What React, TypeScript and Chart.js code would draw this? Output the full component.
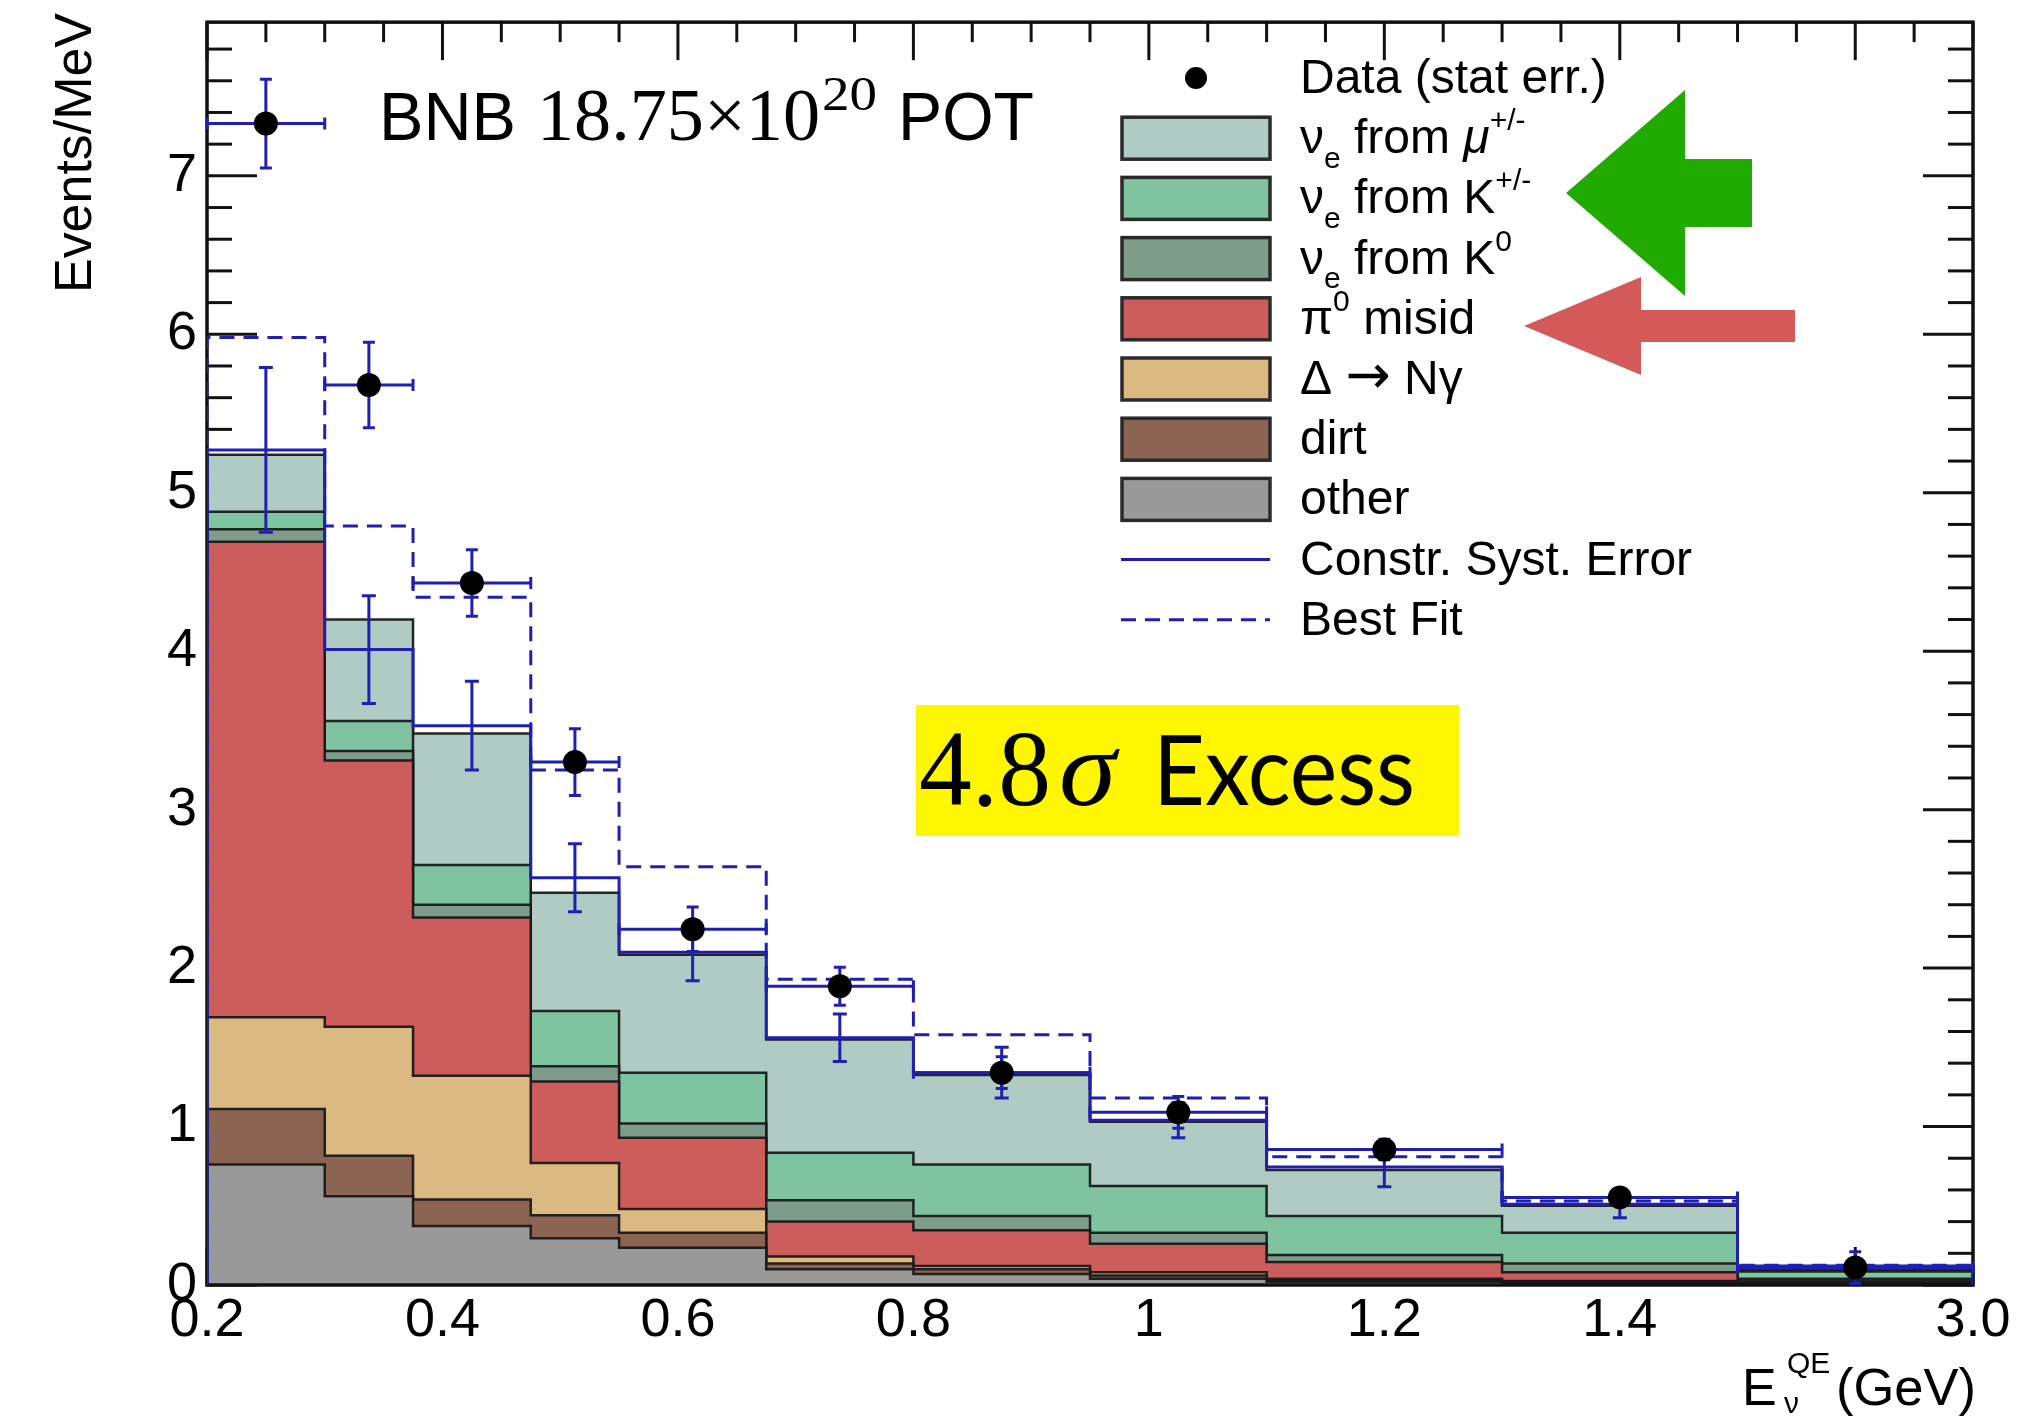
import React, { useEffect, useRef } from "react";
import { Chart, registerables } from "chart.js";

Chart.register(...registerables);

// ---------------- data ----------------
// Bin edges in GeV (last bin 1.5-3.0 GeV is drawn compressed, as in the original)
const binEdges = [0.2, 0.3, 0.375, 0.475, 0.55, 0.675, 0.8, 0.95, 1.1, 1.3, 1.5, 3.0];

// Stacked components (Events/MeV), bottom to top
const otherVals = [0.76, 0.56, 0.373, 0.295, 0.235, 0.1, 0.07, 0.04, 0.02, 0.01, 0.005];
const dirtVals = [0.35, 0.255, 0.167, 0.145, 0.095, 0.035, 0.03, 0.02, 0.01, 0.01, 0.004];
const deltaVals = [0.58, 0.815, 0.78, 0.33, 0.15, 0.045, 0.02, 0.02, 0.01, 0.005, 0.004];
const pi0Vals = [3.0, 1.68, 1.0, 0.515, 0.45, 0.22, 0.225, 0.18, 0.105, 0.055, 0.012];
const k0Vals = [0.08, 0.06, 0.08, 0.095, 0.09, 0.135, 0.09, 0.07, 0.045, 0.055, 0.015];
const kpmVals = [0.11, 0.19, 0.25, 0.35, 0.32, 0.3, 0.325, 0.295, 0.246, 0.195, 0.045];
const muVals = [0.36, 0.64, 0.83, 0.745, 0.745, 0.715, 0.565, 0.405, 0.289, 0.17, 0.011];

// Constrained prediction and its systematic error
const constrVals = [5.27, 4.01, 3.53, 2.57, 2.1, 1.56, 1.34, 1.04, 0.745, 0.51, 0.12];
const constrErr = [0.52, 0.34, 0.28, 0.215, 0.18, 0.15, 0.16, 0.11, 0.125, 0.085, 0.03];

// Best fit
const bestFitVals = [5.98, 4.79, 4.34, 3.25, 2.64, 1.93, 1.58, 1.18, 0.81, 0.53, 0.125];

// Data (stat err.)
const dataVals = [7.33, 5.68, 4.43, 3.3, 2.245, 1.885, 1.34, 1.09, 0.855, 0.553, 0.11];
const dataErr = [0.28, 0.27, 0.21, 0.21, 0.14, 0.12, 0.1, 0.1, 0.065, 0.055, 0.1];

// Axis ticks
const xTickValues = [0.2, 0.4, 0.6, 0.8, 1.0, 1.2, 1.4, 3.0];
const xTickLabels = ["0.2", "0.4", "0.6", "0.8", "1", "1.2", "1.4", "3.0"];
const yTickValues = [0, 1, 2, 3, 4, 5, 6, 7];
const yTickLabels = ["0", "1", "2", "3", "4", "5", "6", "7"];
const yMax = 7.97;

// Text
const yTitle = "Events/MeV";
const potTextParts = ["BNB", "18.75×10", "20", "POT"];
const excessParts = ["4.8", "σ", "Excess"];

type Run = { t: string; sub?: boolean; sup?: boolean; it?: boolean; serif?: boolean; sym?: boolean };
const legendText: Run[][] = [
  [{ t: "Data (stat err.)" }],
  [{ t: "ν" }, { t: "e", sub: true }, { t: " from " }, { t: "μ", it: true }, { t: "+/-", sup: true }],
  [{ t: "ν" }, { t: "e", sub: true }, { t: " from K" }, { t: "+/-", sup: true }],
  [{ t: "ν" }, { t: "e", sub: true }, { t: " from K" }, { t: "0", sup: true }],
  [{ t: "π" }, { t: "0", sup: true }, { t: " misid" }],
  [{ t: "Δ " }, { t: "→", sym: true }, { t: " Nγ" }],
  [{ t: "dirt" }],
  [{ t: "other" }],
  [{ t: "Constr. Syst. Error" }],
  [{ t: "Best Fit" }],
];

// ---------------- styles ----------------
const W = 2029;
const H = 1418;
const SANS = '"Liberation Sans", Arial, Helvetica, sans-serif';
const SERIF = '"Liberation Serif", "Times New Roman", serif';
const SYM = '"DejaVu Sans", sans-serif';
const BLUE = "#1f1fb2";
const OUTLINE = "rgba(22,22,22,0.92)";
const COMP_COLORS = ["#999999", "#8b6454", "#dbb983", "#cd5c5c", "#7e9c8b", "#80c3a0", "#b0cbc4"];
const LEGEND_KIND = ["dot", "box", "box", "box", "box", "box", "box", "box", "line", "dash"];
const LEGEND_BOX_COLORS = ["", "#b0cbc4", "#80c3a0", "#7e9c8b", "#cd5c5c", "#dbb983", "#8b6454", "#999999", "", ""];

// compressed display axis: 1.5-3.0 GeV occupies 0.2 axis units
const toAxis = (e: number) => (e <= 1.5 ? e : 1.5 + ((e - 1.5) * 0.2) / 1.5);
const nBins = binEdges.length - 1;
const binCenters = Array.from({ length: nBins }, (_, i) => (toAxis(binEdges[i]) + toAxis(binEdges[i + 1])) / 2);

function stepPoints(vals: number[]) {
  const pts: { x: number; y: number }[] = [{ x: toAxis(binEdges[0]), y: 0 }];
  vals.forEach((v, i) => pts.push({ x: toAxis(binEdges[i]), y: v }));
  const last = toAxis(binEdges[nBins]);
  pts.push({ x: last, y: vals[vals.length - 1] });
  pts.push({ x: last, y: 0 });
  return pts;
}

const components = [otherVals, dirtVals, deltaVals, pi0Vals, k0Vals, kpmVals, muVals];
const cumulative = components.map((_, k) =>
  Array.from({ length: nBins }, (_, i) => {
    let s = 0;
    for (let j = 0; j <= k; j++) s += components[j][i];
    return s;
  })
);

function seg(ctx: CanvasRenderingContext2D, x1: number, y1: number, x2: number, y2: number) {
  ctx.beginPath();
  ctx.moveTo(x1, y1);
  ctx.lineTo(x2, y2);
  ctx.stroke();
}

function fitText(ctx: CanvasRenderingContext2D, text: string, font: string, x: number, y: number, width: number) {
  ctx.font = font;
  const w = ctx.measureText(text).width;
  ctx.save();
  ctx.translate(x, y);
  ctx.scale(width / w, 1);
  ctx.fillText(text, 0, 0);
  ctx.restore();
}

function drawRuns(ctx: CanvasRenderingContext2D, x: number, y: number, runs: Run[], size: number) {
  let cx = x;
  for (const r of runs) {
    const small = r.sub || r.sup;
    const fs = small ? Math.round(size * 0.62) : r.sym ? Math.round(size * 1.12) : size;
    const fam = r.sym ? SYM : r.serif ? SERIF : SANS;
    ctx.font = `${r.it ? "italic " : ""}${fs}px ${fam}`;
    const dy = r.sub ? size * 0.3 : r.sup ? -size * 0.48 : r.sym ? -size * 0.02 : 0;
    ctx.fillText(r.t, cx, y + dy);
    cx += ctx.measureText(r.t).width;
  }
}

const histPlugin = {
  id: "histExtras",
  beforeDatasetsDraw(chart: any) {
    const { ctx, chartArea: a } = chart;
    const xs = chart.scales.x;
    const ys = chart.scales.y;
    ctx.save();
    ctx.strokeStyle = "#111";
    ctx.lineWidth = 3;
    for (let k = 0; k <= 30; k++) {
      const v = 0.2 + k * 0.05;
      const px = xs.getPixelForValue(v);
      if (px > a.right + 1) break;
      const len = k % 4 === 0 ? 38 : 20;
      seg(ctx, px, a.bottom, px, a.bottom - len);
      seg(ctx, px, a.top, px, a.top + len);
    }
    for (let k = 0; k <= 40; k++) {
      const v = k * 0.2;
      if (v > ys.max) break;
      const py = ys.getPixelForValue(v);
      const len = k % 5 === 0 ? 50 : 25;
      seg(ctx, a.left, py, a.left + len, py);
      seg(ctx, a.right, py, a.right - len, py);
    }
    ctx.restore();
  },
  afterDatasetDraw(chart: any, args: any) {
    const { ctx, chartArea: a } = chart;
    const xs = chart.scales.x;
    const ys = chart.scales.y;
    if (args.index === 3) {
      ctx.save();
      ctx.strokeStyle = "#111";
      ctx.lineWidth = 3.5;
      ctx.strokeRect(a.left, a.top, a.right - a.left, a.bottom - a.top);
      ctx.restore();
    }
    if (args.index === 1) {
      ctx.save();
      ctx.beginPath();
      ctx.rect(a.left - 2, a.top, a.right - a.left + 4, a.bottom - a.top);
      ctx.clip();
      ctx.strokeStyle = BLUE;
      ctx.lineWidth = 3;
      for (let i = 0; i < nBins; i++) {
        const xl = xs.getPixelForValue(toAxis(binEdges[i]));
        const xr = xs.getPixelForValue(toAxis(binEdges[i + 1]));
        const xc = xs.getPixelForValue(binCenters[i]);
        // constrained systematic error
        const c0 = ys.getPixelForValue(constrVals[i] - constrErr[i]);
        const c1 = ys.getPixelForValue(constrVals[i] + constrErr[i]);
        seg(ctx, xc, c0, xc, c1);
        seg(ctx, xc - 7, c0, xc + 7, c0);
        seg(ctx, xc - 7, c1, xc + 7, c1);
        // data error bars
        const yd = ys.getPixelForValue(dataVals[i]);
        seg(ctx, xl, yd, xr, yd);
        seg(ctx, xl, yd - 6, xl, yd + 6);
        seg(ctx, xr, yd - 6, xr, yd + 6);
        const d0 = ys.getPixelForValue(Math.max(dataVals[i] - dataErr[i], 0));
        const d1 = ys.getPixelForValue(dataVals[i] + dataErr[i]);
        seg(ctx, xc, d0, xc, d1);
        seg(ctx, xc - 6, d0, xc + 6, d0);
        seg(ctx, xc - 6, d1, xc + 6, d1);
      }
      ctx.restore();
    }
  },
  afterDraw(chart: any) {
    const { ctx } = chart;
    ctx.save();
    ctx.fillStyle = "#000";
    ctx.textBaseline = "alphabetic";
    ctx.textAlign = "left";

    // y title (rotated)
    ctx.save();
    ctx.translate(91, 293);
    ctx.rotate(-Math.PI / 2);
    fitText(ctx, yTitle, `52px ${SANS}`, 0, 0, 280);
    ctx.restore();

    // x title
    ctx.font = `52px ${SANS}`;
    ctx.fillText("E", 1742, 1405);
    ctx.font = `30px ${SANS}`;
    ctx.fillText("QE", 1787, 1373);
    ctx.fillText("ν", 1784, 1413);
    fitText(ctx, "(GeV)", `52px ${SANS}`, 1836, 1405, 140);

    // BNB POT text
    fitText(ctx, potTextParts[0], `68px ${SANS}`, 379, 140, 137);
    fitText(ctx, potTextParts[1], `74px ${SERIF}`, 537, 140, 283);
    fitText(ctx, potTextParts[2], `48px ${SERIF}`, 822, 110, 55);
    fitText(ctx, potTextParts[3], `68px ${SANS}`, 898, 140, 136);

    // 4.8 sigma excess box
    ctx.fillStyle = "#fff700";
    ctx.fillRect(916, 705, 543, 131);
    ctx.fillStyle = "#000";
    fitText(ctx, excessParts[0], `108px ${SERIF}`, 919, 805, 132);
    fitText(ctx, excessParts[1], `italic 108px ${SERIF}`, 1059, 805, 57);
    fitText(ctx, excessParts[2], `96px Lato, ${SANS}`, 1153, 805, 262);

    // legend
    const rowY0 = 78;
    const rowDy = 60.2;
    for (let r = 0; r < legendText.length; r++) {
      const cy = rowY0 + r * rowDy;
      const kind = LEGEND_KIND[r];
      if (kind === "dot") {
        ctx.fillStyle = "#000";
        ctx.beginPath();
        ctx.arc(1196, cy, 11, 0, Math.PI * 2);
        ctx.fill();
      } else if (kind === "box") {
        ctx.fillStyle = LEGEND_BOX_COLORS[r];
        ctx.fillRect(1122, cy - 21, 148, 42);
        ctx.strokeStyle = "#2a2a2a";
        ctx.lineWidth = 3.5;
        ctx.strokeRect(1122, cy - 21, 148, 42);
      } else {
        ctx.strokeStyle = BLUE;
        ctx.lineWidth = 3;
        ctx.setLineDash(kind === "dash" ? [15, 9] : []);
        seg(ctx, 1121, cy, 1270, cy);
        ctx.setLineDash([]);
      }
      ctx.fillStyle = "#000";
      drawRuns(ctx, 1300, cy + 15, legendText[r], 48);
    }

    // arrows
    ctx.fillStyle = "#21ab00";
    ctx.beginPath();
    ctx.moveTo(1566, 193);
    ctx.lineTo(1685, 90);
    ctx.lineTo(1685, 159);
    ctx.lineTo(1752, 159);
    ctx.lineTo(1752, 227);
    ctx.lineTo(1685, 227);
    ctx.lineTo(1685, 296);
    ctx.closePath();
    ctx.fill();

    ctx.fillStyle = "#d45a5a";
    ctx.beginPath();
    ctx.moveTo(1524, 326);
    ctx.lineTo(1641, 277);
    ctx.lineTo(1641, 310);
    ctx.lineTo(1795, 310);
    ctx.lineTo(1795, 342);
    ctx.lineTo(1641, 342);
    ctx.lineTo(1641, 375);
    ctx.closePath();
    ctx.fill();

    ctx.restore();
  },
};

export default function App() {
  const ref = useRef<HTMLCanvasElement>(null);

  useEffect(() => {
    const canvas = ref.current;
    if (!canvas) return;

    const histDatasets = cumulative.map((vals, k) => ({
      label: `comp${k}`,
      data: stepPoints(vals),
      stepped: true,
      fill: "origin",
      backgroundColor: COMP_COLORS[k],
      borderColor: OUTLINE,
      borderWidth: 2.5,
      pointRadius: 0,
      tension: 0,
    }));

    const datasets: any[] = [
      {
        label: "Data",
        data: dataVals.map((v, i) => ({ x: binCenters[i], y: v })),
        showLine: false,
        pointRadius: 12,
        pointBackgroundColor: "#000",
        pointBorderColor: "#000",
        pointBorderWidth: 0,
        fill: false,
      },
      {
        label: "Constr",
        data: stepPoints(constrVals),
        stepped: true,
        fill: false,
        borderColor: BLUE,
        borderWidth: 3,
        pointRadius: 0,
      },
      {
        label: "Best Fit",
        data: stepPoints(bestFitVals),
        stepped: true,
        fill: false,
        borderColor: BLUE,
        borderWidth: 3,
        borderDash: [15, 9],
        pointRadius: 0,
      },
      ...histDatasets,
    ];

    const chart = new Chart(canvas, {
      type: "line",
      data: { datasets },
      plugins: [histPlugin as any],
      options: {
        responsive: false,
        animation: false,
        devicePixelRatio: 1,
        events: [],
        layout: { padding: { top: 13, right: 56, bottom: 0, left: 0 } },
        plugins: { legend: { display: false }, tooltip: { enabled: false } },
        scales: {
          x: {
            type: "linear",
            min: 0.2,
            max: 1.7,
            grid: { display: false, drawTicks: false },
            border: { display: false },
            afterBuildTicks: (s: any) => {
              s.ticks = xTickValues.map((v) => ({ value: toAxis(v) }));
            },
            afterFit: (s: any) => {
              s.height = 133;
            },
            ticks: {
              autoSkip: false,
              maxRotation: 0,
              padding: 4,
              color: "#000",
              font: { family: SANS, size: 54 },
              callback: (_v: any, idx: number) => xTickLabels[idx],
            },
          },
          y: {
            type: "linear",
            min: 0,
            max: yMax,
            grid: { display: false, drawTicks: false },
            border: { display: false },
            afterBuildTicks: (s: any) => {
              s.ticks = yTickValues.map((v) => ({ value: v }));
            },
            afterFit: (s: any) => {
              s.width = 207;
            },
            ticks: {
              padding: 10,
              color: "#000",
              font: { family: SANS, size: 54, lineHeight: 0.45 },
              callback: (_v: any, idx: number) => yTickLabels[idx],
            },
          },
        },
      } as any,
    });

    return () => chart.destroy();
  }, []);

  return (
    <div style={{ position: "fixed", left: 0, top: 0, width: W, height: H, background: "#fff" }}>
      <canvas ref={ref} width={W} height={H} style={{ width: W, height: H, display: "block" }} />
    </div>
  );
}
